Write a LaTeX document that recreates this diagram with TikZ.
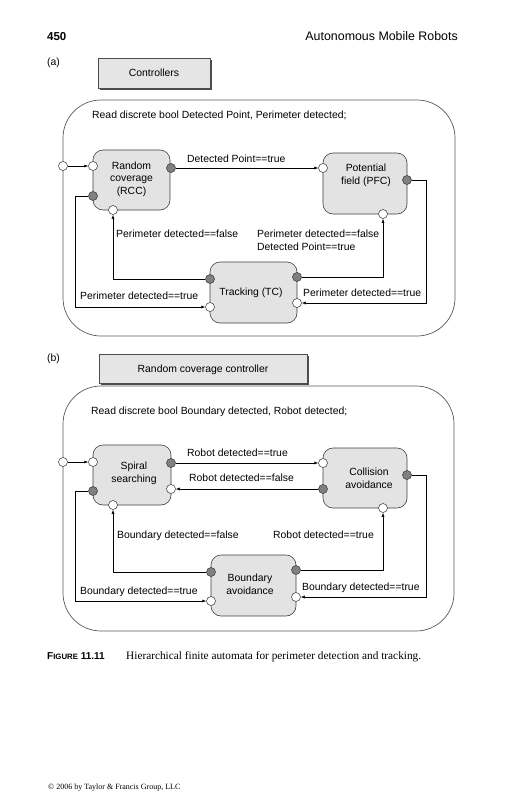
\documentclass[tikz,border=0pt]{standalone}
\usepackage{fontspec}
\setmainfont{Liberation Serif}
\setsansfont{Liberation Sans}
\usetikzlibrary{arrows.meta}
\begin{document}
\begin{tikzpicture}[x=1pt,y=-1pt,
  every node/.style={font=\sffamily\fontsize{10.4}{12.5}\selectfont},
  state/.style={draw=black!75,fill=black!11,rounded corners=10pt,line width=0.6pt,inner sep=0},
  wport/.style={circle,draw=black!80,fill=white,inner sep=0,minimum size=9pt,line width=0.5pt},
  dport/.style={wport,fill=black!50},
  lab/.style={anchor=base west,inner sep=0},
  stxt/.style={anchor=base,inner sep=0},
  conn/.style={draw=black,line width=0.5pt,-{Latex[length=4pt,width=3pt]}},
  outer/.style={draw=black!65,line width=0.7pt,rounded corners=38pt},
  titlebox/.style={draw=black!70,fill=black!10,line width=0.5pt,inner sep=0}
]
\useasboundingbox (0,0) rectangle (504,800);
\fill[white] (0,0) rectangle (504,800);

% header
\node[anchor=base west,inner sep=0,font=\sffamily\bfseries\fontsize{11.5}{12}\selectfont] (pgnum) at (47,41) {450};
\node[anchor=base east,inner sep=0,font=\sffamily\fontsize{12.4}{13}\selectfont] (runhead) at (458,41) {Autonomous Mobile Robots};

% ================= panel (a)
\node[lab] (la) at (47,66) {(a)};
\fill[black!70] (100,60) rectangle (212,90);
\node[titlebox,minimum width=112pt,minimum height=30pt] (ctrlbox) at (154,73) {};
\node[stxt] (ctrltxt) at (154,77) {Controllers};
\draw[outer] (63,100) rectangle (455,336);
\node[lab] (reada) at (92,118) {Read discrete bool Detected Point, Perimeter detected;};

\node[state,minimum width=77pt,minimum height=60pt] (rcc) at (131.5,180) {};
\node[state,minimum width=84pt,minimum height=61pt] (pfc) at (365,183.5) {};
\node[state,minimum width=87pt,minimum height=61pt] (tc) at (253.5,292.5) {};
\node[stxt,align=center] (rcctxt) at (131.5,194) {Random\\coverage\\(RCC)};
\node[stxt,align=center] (pfctxt) at (366,184) {Potential\\field (PFC)};
\node[stxt] (tctxt) at (251,295) {Tracking (TC)};

\node[wport] (ea) at (63,166) {};
\node[wport] (rccWL) at (93,166) {};
\node[dport] (rccR) at (171,168) {};
\node[dport] (rccDL) at (93,196) {};
\node[wport] (rccB) at (113,210) {};
\node[wport] (pfcL) at (323,168) {};
\node[dport] (pfcR) at (407,180) {};
\node[wport] (pfcB) at (383,214) {};
\node[dport] (tcDL) at (210,279) {};
\node[dport] (tcDR) at (297,277) {};
\node[wport] (tcWL) at (210,307) {};
\node[wport] (tcWR) at (297,303) {};
\coordinate (c1) at (426,303);
\coordinate (c2) at (75,307);

\draw[conn] (ea) -- (rccWL);
\draw[conn] (rccR) -- (pfcL);
\draw[conn] (tcDL) -| (rccB);
\draw[conn] (tcDR) -| (pfcB);
\draw[conn] (pfcR) -| (c1) -- (tcWR);
\draw[conn] (rccDL) -| (c2) -- (tcWL);

\node[lab] (t1) at (187,162) {Detected Point==true};
\node[lab] (t2) at (116,237) {Perimeter detected==false};
\node[lab,align=left] (t3) at (257,250) {Perimeter detected==false\\Detected Point==true};
\node[lab] (t4) at (80,299) {Perimeter detected==true};
\node[lab] (t5) at (303,296) {Perimeter detected==true};

% ================= panel (b)
\node[lab] (lb) at (47,361) {(b)};
\fill[black!70] (101,356) rectangle (309,385);
\node[titlebox,minimum width=208pt,minimum height=29pt] (rccbox) at (203,368.5) {};
\node[stxt] (rccboxtxt) at (203,372) {Random coverage controller};
\draw[outer] (63,386) rectangle (454,631);
\node[lab] (readb) at (91,414) {Read discrete bool Boundary detected, Robot detected;};

\node[state,minimum width=78pt,minimum height=60pt] (sp) at (132,475) {};
\node[state,minimum width=84pt,minimum height=60pt] (ca) at (365,478) {};
\node[state,minimum width=85pt,minimum height=61pt] (ba) at (253.5,585.5) {};
\node[stxt,align=center] (sptxt) at (134,482) {Spiral\\searching};
\node[stxt,align=center] (catxt) at (369,488) {Collision\\avoidance};
\node[stxt,align=center] (batxt) at (250,594) {Boundary\\avoidance};

\node[wport] (eb) at (63,462) {};
\node[wport] (spWL) at (93,462) {};
\node[dport] (spR) at (171,463) {};
\node[wport] (spWR) at (171,489) {};
\node[dport] (spDL) at (93,491) {};
\node[wport] (spB) at (113,505) {};
\node[wport] (caWL) at (323,463) {};
\node[dport] (caDL) at (323,489) {};
\node[dport] (caR) at (407,475) {};
\node[wport] (caB) at (383,508) {};
\node[dport] (baDL) at (211,572) {};
\node[dport] (baDR) at (296,570) {};
\node[wport] (baWL) at (211,601) {};
\node[wport] (baWR) at (296,597) {};
\coordinate (c3) at (426,597);
\coordinate (c4) at (75,601);

\draw[conn] (eb) -- (spWL);
\draw[conn] (spR) -- (caWL);
\draw[conn] (caDL) -- (spWR);
\draw[conn] (baDL) -| (spB);
\draw[conn] (baDR) -| (caB);
\draw[conn] (caR) -| (c3) -- (baWR);
\draw[conn] (spDL) -| (c4) -- (baWL);

\node[lab] (u1) at (187,456) {Robot detected==true};
\node[lab] (u2) at (189,481) {Robot detected==false};
\node[lab] (u3) at (117,538) {Boundary detected==false};
\node[lab] (u4) at (273,538) {Robot detected==true};
\node[lab] (u5) at (80,594) {Boundary detected==true};
\node[lab] (u6) at (302,590) {Boundary detected==true};

% caption and footer
\node[lab,font=\sffamily\bfseries\fontsize{10}{11}\selectfont] (figlab) at (47,659) {F{\fontsize{7.8}{8}\selectfont IGURE} 11.11};
\node[lab,font=\rmfamily\fontsize{11.3}{12}\selectfont] (cap) at (126,659) {Hierarchical finite automata for perimeter detection and tracking.};
\node[lab,font=\rmfamily\fontsize{8}{9}\selectfont] (foot) at (48,789) {\textcopyright\ 2006 by Taylor \& Francis Group, LLC};
\end{tikzpicture}
\end{document}
